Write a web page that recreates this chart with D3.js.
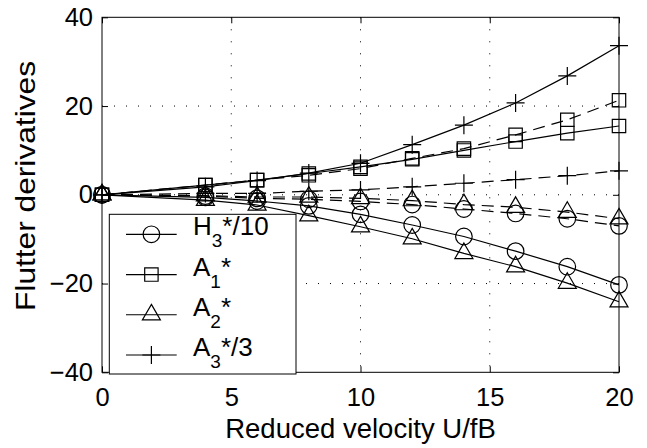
<!DOCTYPE html>
<html>
<head>
<meta charset="utf-8">
<script src="https://cdn.jsdelivr.net/npm/d3@7"></script>
<style>
  body { margin: 0; background: #fff; }
  text { font-family: "Liberation Sans", Arial, Helvetica, sans-serif; fill: #000; }
</style>
</head>
<body>
<script>
// ---------------------------------------------- data ----------------------------------------------//
var velocity = [0, 4, 6, 8, 10, 12, 14, 16, 18, 20];

// solid lines (first data set)
var h3Solid = [0, -0.6, -1.4, -2.5, -4.4, -6.8, -9.4, -12.7, -16.2, -20.3];
var a1Solid = [0, 2.2, 3.3, 4.8, 6.3, 8.0, 10.0, 12.0, 13.9, 15.5];
var a2Solid = [0, -1.2, -2.3, -4.7, -7.2, -9.9, -13.2, -16.2, -19.9, -24.1];
var a3Solid = [0, 1.8, 3.2, 4.9, 7.1, 11.3, 15.7, 20.7, 26.8, 33.6];

// dashed lines (second data set)
var h3Dashed = [0, -0.3, -0.8, -1.0, -1.5, -2.2, -3.2, -4.2, -5.4, -7.0];
var a1Dashed = [0, 2.2, 3.3, 4.4, 5.9, 8.2, 10.4, 13.5, 16.9, 21.3];
var a2Dashed = [0, -0.2, -0.5, -0.5, -0.8, -1.3, -2.2, -2.8, -3.9, -5.4];
var a3Dashed = [0, 0.3, 0.3, 0.8, 1.1, 1.8, 2.6, 3.4, 4.3, 5.4];

var xTicks = [0, 5, 10, 15, 20];
var yTicks = [-40, -20, 0, 20, 40];

var legendNames = [["H", "3", "*/10"], ["A", "1", "*"], ["A", "2", "*"], ["A", "3", "*/3"]];
var markerTypes = ["circle", "square", "triangle", "plus"];

var series = [
  { values: h3Solid, marker: "circle", dashed: false },
  { values: a1Solid, marker: "square", dashed: false },
  { values: a2Solid, marker: "triangle", dashed: false },
  { values: a3Solid, marker: "plus", dashed: false },
  { values: h3Dashed, marker: "circle", dashed: true },
  { values: a1Dashed, marker: "square", dashed: true },
  { values: a2Dashed, marker: "triangle", dashed: true },
  { values: a3Dashed, marker: "plus", dashed: true }
];

//-------------------------------------------- layout --------------------------------------------//
var width = 647,
  height = 448;
var plotLeft = 102, plotRight = 619, plotTop = 17.3, plotBottom = 372.3;

var svg = d3.select("body").append("svg").attr("width", width).attr("height", height);

var x = d3.scaleLinear().domain([0, 20]).range([plotLeft, plotRight]);
var y = d3.scaleLinear().domain([-40, 40]).range([plotBottom, plotTop]);

// markers as paths centred on (0,0)
function markerPath(type) {
  var p = d3.path();
  if (type === "circle") {
    p.moveTo(8.3, 0);
    p.arc(0, 0, 8.3, 0, 2 * Math.PI);
  } else if (type === "square") {
    p.rect(-6.7, -6.7, 13.4, 13.4);
  } else if (type === "triangle") {
    var r = 10.4;
    p.moveTo(0, -r);
    p.lineTo(r * 0.866, r / 2);
    p.lineTo(-r * 0.866, r / 2);
    p.closePath();
  } else {
    p.moveTo(-9, 0); p.lineTo(9, 0);
    p.moveTo(0, -9); p.lineTo(0, 9);
  }
  return p.toString();
}

//--------------------------------------------- grid ---------------------------------------------//
var grid = svg.append("g").attr("stroke", "#000").attr("stroke-width", 1)
  .attr("stroke-dasharray", "1,11").attr("fill", "none");

grid.selectAll(".gx").data(xTicks.slice(1, -1)).enter().append("line")
  .attr("x1", function (d) { return x(d); }).attr("x2", function (d) { return x(d); })
  .attr("y1", plotTop).attr("y2", plotBottom);

grid.selectAll(".gy").data(yTicks.slice(1, -1)).enter().append("line")
  .attr("x1", plotLeft).attr("x2", plotRight)
  .attr("y1", function (d) { return y(d); }).attr("y2", function (d) { return y(d); });

//--------------------------------------------- axes ---------------------------------------------//
var axisStyle = function (g) {
  g.select(".domain").remove();
  g.selectAll(".tick line").attr("stroke", "#000");
  g.selectAll(".tick text").attr("font-size", 25.5).attr("fill", "#000")
    .attr("font-family", "Liberation Sans, Arial, sans-serif");
};

svg.append("g").attr("transform", "translate(0," + plotBottom + ")")
  .call(d3.axisBottom(x).tickValues(xTicks).tickSizeInner(-6).tickSizeOuter(0).tickPadding(16))
  .call(axisStyle);
svg.append("g").attr("transform", "translate(0," + plotTop + ")")
  .call(d3.axisTop(x).tickValues(xTicks).tickSizeInner(-6).tickSizeOuter(0).tickFormat(""))
  .call(axisStyle);
svg.append("g").attr("transform", "translate(" + plotLeft + ",0)")
  .call(d3.axisLeft(y).tickValues(yTicks).tickSizeInner(-6).tickSizeOuter(0).tickPadding(9)
    .tickFormat(function (d) { return d < 0 ? "\u2212" + Math.abs(d) : d; }))
  .call(axisStyle);
svg.append("g").attr("transform", "translate(" + plotRight + ",0)")
  .call(d3.axisRight(y).tickValues(yTicks).tickSizeInner(-6).tickSizeOuter(0).tickFormat(""))
  .call(axisStyle);

svg.append("rect")
  .attr("x", plotLeft).attr("y", plotTop)
  .attr("width", plotRight - plotLeft).attr("height", plotBottom - plotTop)
  .attr("fill", "none").attr("stroke", "#000").attr("stroke-width", 1);

//--------------------------------------------- lines ---------------------------------------------//
var line = d3.line()
  .x(function (d) { return x(d[0]); })
  .y(function (d) { return y(d[1]); });

var plot = svg.append("g");

series.forEach(function (s) {
  var pts = velocity.map(function (v, i) { return [v, s.values[i]]; });
  plot.append("path")
    .attr("d", line(pts))
    .attr("fill", "none")
    .attr("stroke", "#000")
    .attr("stroke-width", 1.2)
    .attr("stroke-dasharray", s.dashed ? "12,7" : null);

  plot.selectAll(null).data(pts).enter().append("path")
    .attr("d", markerPath(s.marker))
    .attr("transform", function (d) { return "translate(" + x(d[0]) + "," + y(d[1]) + ")"; })
    .attr("fill", "none")
    .attr("stroke", "#000")
    .attr("stroke-width", 1.2);
});

//-------------------------------------------- labels --------------------------------------------//
svg.append("text")
  .attr("x", (plotLeft + plotRight) / 2).attr("y", 438)
  .attr("text-anchor", "middle").attr("font-size", 27.5)
  .text("Reduced velocity U/fB");

svg.append("text")
  .attr("transform", "translate(35,186) rotate(-90)")
  .attr("text-anchor", "middle").attr("font-size", 28)
  .attr("textLength", 250).attr("lengthAdjust", "spacingAndGlyphs")
  .text("Flutter derivatives");

//-------------------------------------------- legend --------------------------------------------//
var legend = svg.append("g");
legend.append("rect")
  .attr("x", 109.3).attr("y", 214.3).attr("width", 186.7).attr("height", 159.7)
  .attr("fill", "#fff").attr("stroke", "#000").attr("stroke-width", 1);

var rowY = d3.scalePoint().domain(d3.range(4)).range([234.3, 355]);

legendNames.forEach(function (name, i) {
  var ly = rowY(i);
  legend.append("line")
    .attr("x1", 126).attr("x2", 176.7).attr("y1", ly).attr("y2", ly)
    .attr("stroke", "#000").attr("stroke-width", 1.2);
  legend.append("path")
    .attr("d", markerPath(markerTypes[i]))
    .attr("transform", "translate(151.4," + ly + ")")
    .attr("fill", "none").attr("stroke", "#000").attr("stroke-width", 1.2);
  var t = legend.append("text").attr("x", 193).attr("y", ly + 1).attr("font-size", 26);
  t.append("tspan").text(name[0]);
  t.append("tspan").attr("dy", 12).attr("font-size", 19).text(name[1]);
  t.append("tspan").attr("dy", -12).text(name[2]);
});
</script>
</body>
</html>
